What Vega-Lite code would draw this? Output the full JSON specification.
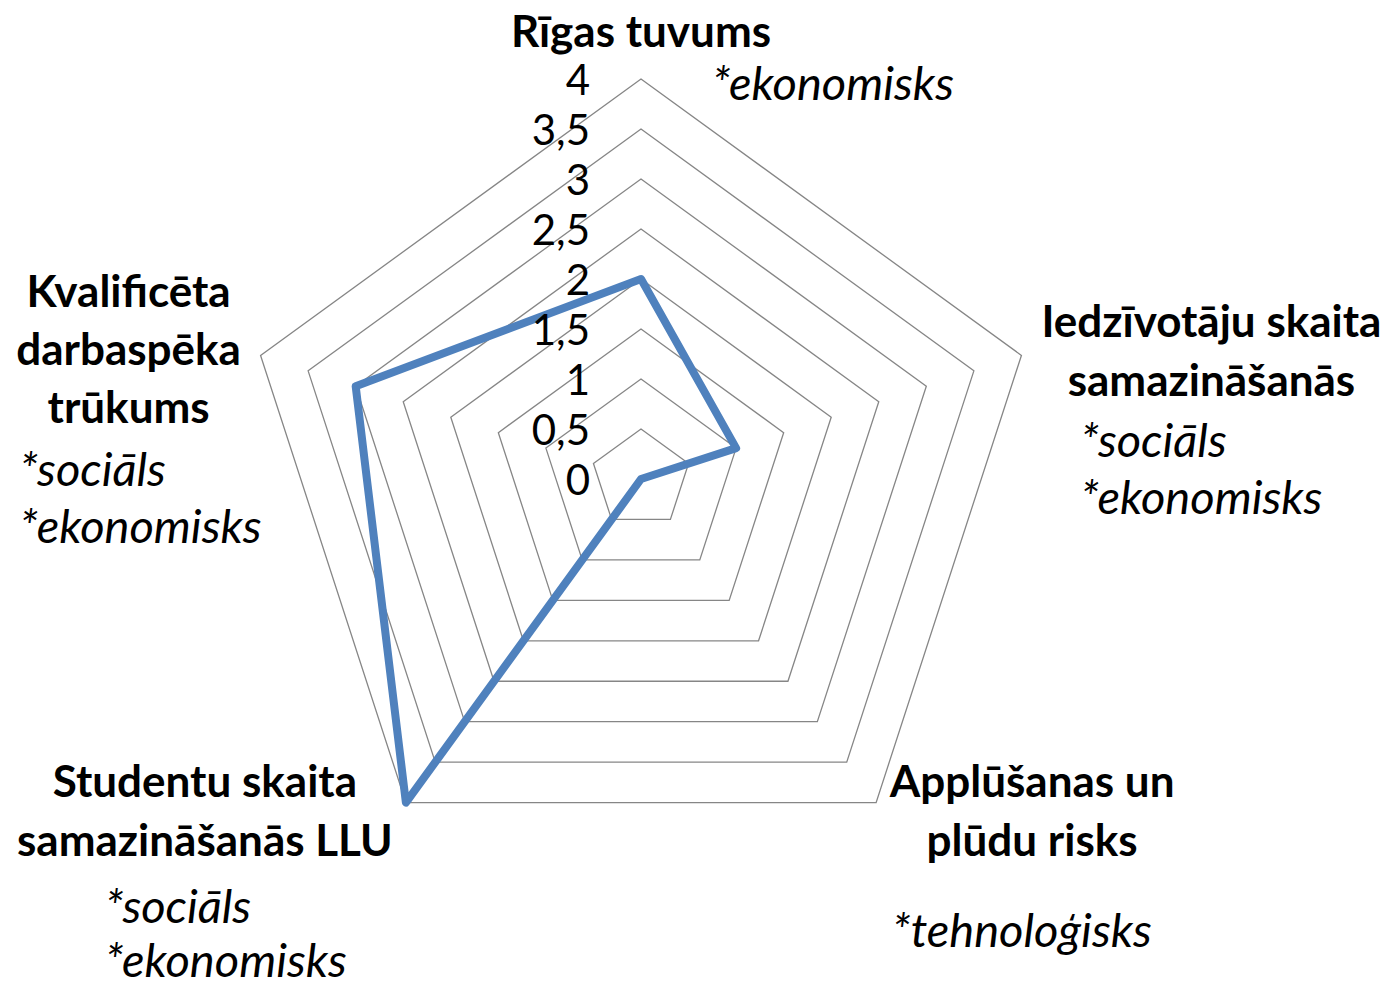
{
  "$schema": "https://vega.github.io/schema/vega-lite/v6.json",
  "width": 1390,
  "height": 988,
  "autosize": {"type": "fit", "contains": "padding"},
  "padding": 0,
  "background": "white",
  "config": {"view": {"stroke": null}},
  "datasets": {
    "scores": [
      {"k": 0, "category": "Rīgas tuvums", "value": 2, "label": "Rīgas tuvums", "sub": "*ekonomisks"},
      {"k": 1, "category": "Iedzīvotāju skaita samazināšanās", "value": 1, "label": "Iedzīvotāju skaita\nsamazināšanās", "sub": "*sociāls\n*ekonomisks"},
      {"k": 2, "category": "Applūšanas un plūdu risks", "value": 0, "label": "Applūšanas un\nplūdu risks", "sub": "*tehnoloģisks"},
      {"k": 3, "category": "Studentu skaita samazināšanās LLU", "value": 4, "label": "Studentu skaita\nsamazināšanās LLU", "sub": "*sociāls\n*ekonomisks"},
      {"k": 4, "category": "Kvalificēta darbaspēka trūkums", "value": 3, "label": "Kvalificēta\ndarbaspēka\ntrūkums", "sub": "*sociāls\n*ekonomisks"}
    ],
    "levels": [
      {"level": 0, "tick": "0", "k": [0, 1, 2, 3, 4]},
      {"level": 0.5, "tick": "0,5", "k": [0, 1, 2, 3, 4]},
      {"level": 1, "tick": "1", "k": [0, 1, 2, 3, 4]},
      {"level": 1.5, "tick": "1,5", "k": [0, 1, 2, 3, 4]},
      {"level": 2, "tick": "2", "k": [0, 1, 2, 3, 4]},
      {"level": 2.5, "tick": "2,5", "k": [0, 1, 2, 3, 4]},
      {"level": 3, "tick": "3", "k": [0, 1, 2, 3, 4]},
      {"level": 3.5, "tick": "3,5", "k": [0, 1, 2, 3, 4]},
      {"level": 4, "tick": "4", "k": [0, 1, 2, 3, 4]}
    ]
  },
  "layer": [
    {
      "data": {"name": "levels"},
      "transform": [
        {"filter": "datum.level > 0"},
        {"flatten": ["k"]},
        {"calculate": "PI/2 - datum.k*2*PI/5", "as": "a"},
        {"calculate": "datum.level*cos(datum.a)", "as": "px"},
        {"calculate": "datum.level*sin(datum.a)", "as": "py"}
      ],
      "mark": {"type": "line", "interpolate": "linear-closed", "stroke": "#868686", "strokeWidth": 1.3},
      "encoding": {
        "x": {"field": "px", "type": "quantitative", "scale": {"domain": [-6.41, 7.49], "nice": false, "zero": false}, "axis": null},
        "y": {"field": "py", "type": "quantitative", "scale": {"domain": [-5.09, 4.79], "nice": false, "zero": false}, "axis": null},
        "detail": {"field": "level", "type": "nominal"},
        "order": {"field": "k", "type": "quantitative"}
      }
    },
    {
      "data": {"name": "scores"},
      "transform": [
        {"calculate": "PI/2 - datum.k*2*PI/5", "as": "a"},
        {"calculate": "datum.value*cos(datum.a)", "as": "px"},
        {"calculate": "datum.value*sin(datum.a)", "as": "py"}
      ],
      "mark": {"type": "line", "interpolate": "linear-closed", "stroke": "#4F81BD", "strokeWidth": 8, "strokeJoin": "round", "strokeCap": "round"},
      "encoding": {
        "x": {"field": "px", "type": "quantitative"},
        "y": {"field": "py", "type": "quantitative"},
        "order": {"field": "k", "type": "quantitative"}
      }
    },
    {
      "data": {"name": "levels"},
      "mark": {"type": "text", "align": "right", "baseline": "middle", "dx": -51, "dy": 3, "font": "Lato", "fontSize": 42, "color": "#000000"},
      "encoding": {
        "x": {"datum": 0, "type": "quantitative"},
        "y": {"field": "level", "type": "quantitative"},
        "text": {"field": "tick", "type": "nominal"}
      }
    },
    {
      "data": {"name": "scores"},
      "transform": [
        {"calculate": "PI/2 - datum.k*2*PI/5", "as": "a"},
        {"calculate": "4*cos(datum.a)", "as": "vx"},
        {"calculate": "4*sin(datum.a)", "as": "vy"}
      ],
      "encoding": {
        "x": {"field": "vx", "type": "quantitative"},
        "y": {"field": "vy", "type": "quantitative"}
      },
      "layer": [
        {"transform": [{"filter": "datum.k == 0"}], "mark": {"type": "text", "align": "center", "baseline": "alphabetic", "dx": 0, "dy": -32, "font": "Lato", "fontSize": 44, "fontWeight": "bold", "lineBreak": "\n", "lineHeight": 59, "color": "#000000"}, "encoding": {"text": {"field": "label", "type": "nominal"}}},
        {"transform": [{"filter": "datum.k == 1"}], "mark": {"type": "text", "align": "center", "baseline": "alphabetic", "dx": 190, "dy": -18, "font": "Lato", "fontSize": 44, "fontWeight": "bold", "lineBreak": "\n", "lineHeight": 59, "color": "#000000"}, "encoding": {"text": {"field": "label", "type": "nominal"}}},
        {"transform": [{"filter": "datum.k == 2"}], "mark": {"type": "text", "align": "center", "baseline": "alphabetic", "dx": 156, "dy": -6, "font": "Lato", "fontSize": 44, "fontWeight": "bold", "lineBreak": "\n", "lineHeight": 59, "color": "#000000"}, "encoding": {"text": {"field": "label", "type": "nominal"}}},
        {"transform": [{"filter": "datum.k == 3"}], "mark": {"type": "text", "align": "center", "baseline": "alphabetic", "dx": -201, "dy": -6, "font": "Lato", "fontSize": 44, "fontWeight": "bold", "lineBreak": "\n", "lineHeight": 59, "color": "#000000"}, "encoding": {"text": {"field": "label", "type": "nominal"}}},
        {"transform": [{"filter": "datum.k == 4"}], "mark": {"type": "text", "align": "center", "baseline": "alphabetic", "dx": -132, "dy": -48, "font": "Lato", "fontSize": 44, "fontWeight": "bold", "lineBreak": "\n", "lineHeight": 58, "color": "#000000"}, "encoding": {"text": {"field": "label", "type": "nominal"}}},
        {"transform": [{"filter": "datum.k == 0"}], "mark": {"type": "text", "align": "left", "baseline": "alphabetic", "dx": 71, "dy": 21, "font": "Lato", "fontSize": 47, "fontStyle": "italic", "lineBreak": "\n", "lineHeight": 57, "color": "#000000"}, "encoding": {"text": {"field": "sub", "type": "nominal"}}},
        {"transform": [{"filter": "datum.k == 1"}], "mark": {"type": "text", "align": "left", "baseline": "alphabetic", "dx": 59, "dy": 102, "font": "Lato", "fontSize": 47, "fontStyle": "italic", "lineBreak": "\n", "lineHeight": 57, "color": "#000000"}, "encoding": {"text": {"field": "sub", "type": "nominal"}}},
        {"transform": [{"filter": "datum.k == 2"}], "mark": {"type": "text", "align": "left", "baseline": "alphabetic", "dx": 16, "dy": 144, "font": "Lato", "fontSize": 47, "fontStyle": "italic", "lineBreak": "\n", "lineHeight": 57, "color": "#000000"}, "encoding": {"text": {"field": "sub", "type": "nominal"}}},
        {"transform": [{"filter": "datum.k == 3"}], "mark": {"type": "text", "align": "left", "baseline": "alphabetic", "dx": -301, "dy": 120, "font": "Lato", "fontSize": 47, "fontStyle": "italic", "lineBreak": "\n", "lineHeight": 54, "color": "#000000"}, "encoding": {"text": {"field": "sub", "type": "nominal"}}},
        {"transform": [{"filter": "datum.k == 4"}], "mark": {"type": "text", "align": "left", "baseline": "alphabetic", "dx": -241, "dy": 131, "font": "Lato", "fontSize": 47, "fontStyle": "italic", "lineBreak": "\n", "lineHeight": 57, "color": "#000000"}, "encoding": {"text": {"field": "sub", "type": "nominal"}}}
      ]
    }
  ]
}
